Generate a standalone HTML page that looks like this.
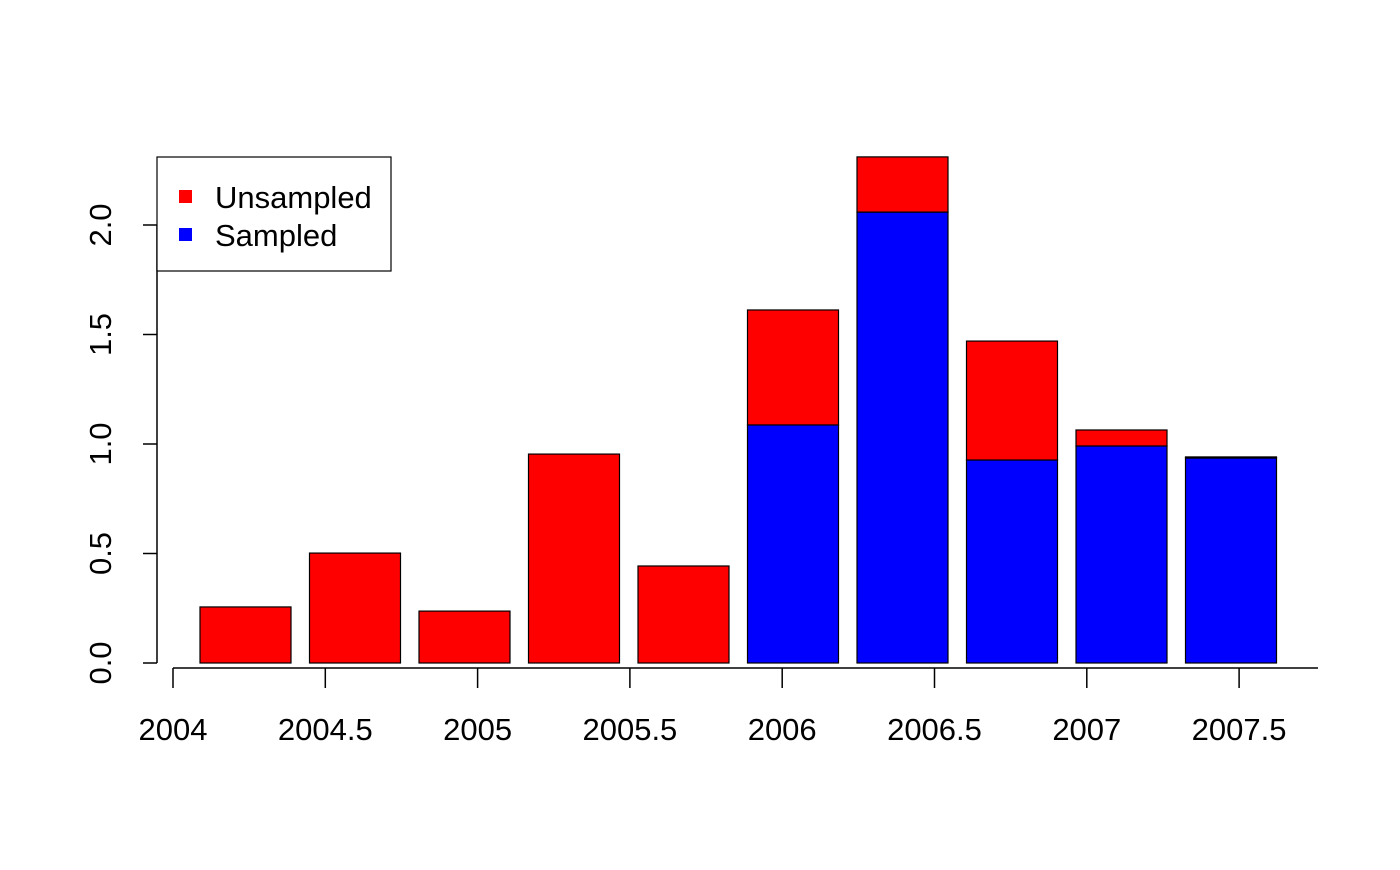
<!DOCTYPE html>
<html><head><meta charset="utf-8"><style>
html,body{margin:0;padding:0;background:#fff}
text{font-family:"Liberation Sans",Arial,sans-serif;font-size:31px;fill:#000}
</style></head><body>
<svg id="chart" width="1400" height="865" xmlns="http://www.w3.org/2000/svg">
<g id="bars"></g>
<g id="axes"></g>
<g>
<rect x="157" y="157" width="234" height="114" fill="#fff" stroke="#000" stroke-width="1.2"/>
<rect x="179" y="190" width="13" height="13" fill="#ff0000"/>
<text x="215" y="208">Unsampled</text>
<rect x="179" y="228" width="13" height="13" fill="#0000ff"/>
<text x="215" y="246">Sampled</text>
</g>
</svg>
<script>
const categories = ["b1","b2","b3","b4","b5","b6","b7","b8","b9","b10"];
const sampled = [0,0,0,0,0,1.087,2.059,0.927,0.991,0.936];
const unsampled = [0.256,0.502,0.237,0.954,0.443,0.525,0.252,0.543,0.073,0.005];
const yTicks = [0,0.5,1,1.5,2];
const yTickLabels = ["0.0","0.5","1.0","1.5","2.0"];
const xTicks = [2004,2004.5,2005,2005.5,2006,2006.5,2007,2007.5];
const xTickLabels = ["2004","2004.5","2005","2005.5","2006","2006.5","2007","2007.5"];

const NS="http://www.w3.org/2000/svg";
const y = v => 663 - v*219;
const bx = i => 200 + i*109.5;
const bw = 91;
const xs = v => 173 + (v-2004)*304.6;
function mk(tag, attrs, parent){const e=document.createElementNS(NS,tag);for(const k in attrs)e.setAttribute(k,attrs[k]);parent.appendChild(e);return e;}
const bars=document.getElementById('bars'), axes=document.getElementById('axes');
categories.forEach((c,i)=>{
  const s=sampled[i], u=unsampled[i];
  if(s>0){const r=mk('rect',{x:bx(i),y:y(s),width:bw,height:y(0)-y(s),fill:'#0000ff',stroke:'#000','stroke-width':1.2},bars);
  
  }
  const r2=mk('rect',{x:bx(i),y:y(s+u),width:bw,height:y(s)-y(s+u),fill:'#ff0000',stroke:'#000','stroke-width':1.2},bars);
  
  
});
mk('line',{x1:157,x2:157,y1:y(yTicks[0]),y2:y(yTicks[yTicks.length-1]),stroke:'#000','stroke-width':1.5},axes);
yTicks.forEach((v,i)=>{
  mk('line',{x1:143,x2:157,y1:y(v),y2:y(v),stroke:'#000','stroke-width':1.5},axes);
  const t=mk('text',{x:0,y:0,'text-anchor':'middle',transform:`translate(111,${y(v)}) rotate(-90)`},axes);
  t.textContent=yTickLabels[i];
  
  
});
mk('line',{x1:173,x2:1318,y1:668,y2:668,stroke:'#000','stroke-width':1.5},axes);
xTicks.forEach((v,i)=>{
  mk('line',{x1:xs(v),x2:xs(v),y1:668,y2:688,stroke:'#000','stroke-width':1.5},axes);
  const t=mk('text',{x:xs(v),y:740,'text-anchor':'middle'},axes);
  t.textContent=xTickLabels[i];
  
  
});
</script>
</body></html>
